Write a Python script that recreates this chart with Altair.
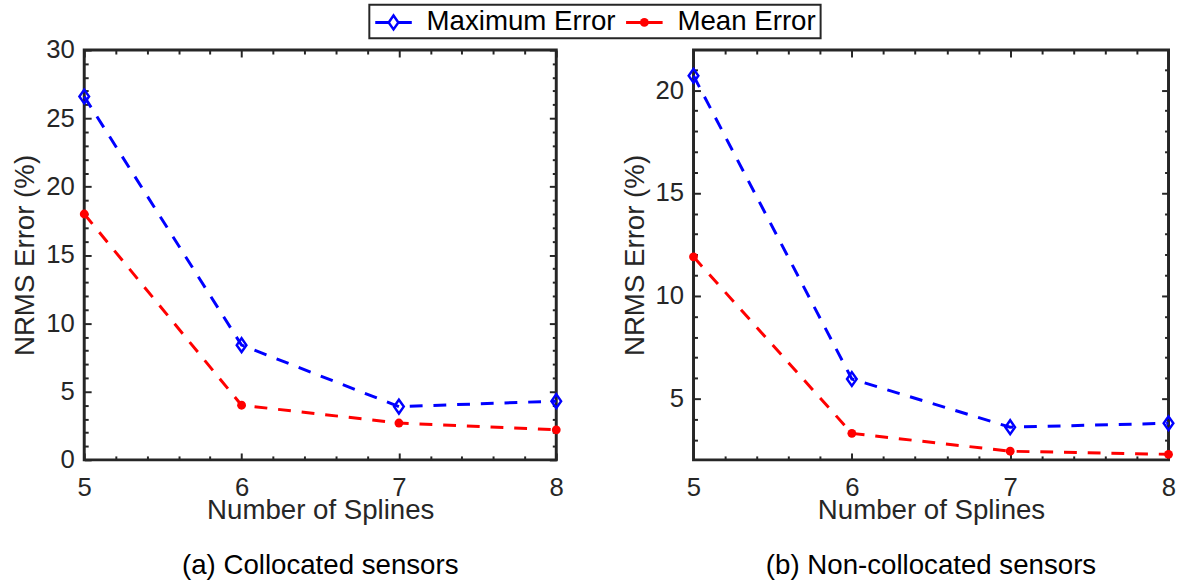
import altair as alt
import pandas as pd

FONT = "Liberation Sans"
DARK = "#262626"

# ---------------- data ----------------
splines = [5, 6, 7, 8]
series_names = ["Maximum Error", "Mean Error"]
series_colors = ["#0000ff", "#ff0000"]

a_max = [26.6, 8.4, 3.9, 4.3]
a_mean = [18.0, 4.0, 2.7, 2.2]
b_max = [20.7, 5.96, 3.62, 3.81]
b_mean = [11.9, 3.32, 2.45, 2.3]

x_major = [5, 6, 7, 8]
x_minor = [5.2, 5.4, 5.6, 5.8, 6.2, 6.4, 6.6, 6.8, 7.2, 7.4, 7.6, 7.8]
a_y_domain = [0, 30]
a_y_major = [0, 5, 10, 15, 20, 25, 30]
a_y_minor = [1, 2, 3, 4, 6, 7, 8, 9, 11, 12, 13, 14, 16, 17, 18, 19,
             21, 22, 23, 24, 26, 27, 28, 29]
b_y_domain = [2.03, 21.95]
b_y_major = [5, 10, 15, 20]
b_y_minor = [3, 4, 6, 7, 8, 9, 11, 12, 13, 14, 16, 17, 18, 19, 21]

captions = ["(a) Collocated sensors", "(b) Non-collocated sensors"]

# ---------------- layout / style ----------------
H = 415
W_A = 478
W_B = 481
DASH = [13, 11]
LINE_W = 3
DIAMOND = "M0,-1L0.7,0L0,1L-0.7,0Z"
DIAMOND_SIZE = 196
DOT_SIZE = 80

# legend box layout (pixels inside the legend frame)
LEG_W = 457
LEG_H = 34
LEG_Y = 18
LEG_SHIFT = 74          # invisible extension right of the frame (moves the centred frame left)
leg_seg_x1 = [6, 260]
leg_seg_x2 = [43, 297]
leg_sym_x = [24.5, 278.5]
leg_lab_x = [58, 312]


def panel(max_vals, mean_vals, ydom, ymaj, ymin, caption, width):
    df = pd.DataFrame({
        "splines": splines * 2,
        "error": max_vals + mean_vals,
        "series": [series_names[0]] * len(splines) + [series_names[1]] * len(splines),
    })
    xs = alt.Scale(domain=[5, 8], nice=False, zero=False)
    ys = alt.Scale(domain=ydom, nice=False, zero=False)
    base = alt.Chart(df)

    def xenc(axis):
        return alt.X("splines:Q", scale=xs, axis=axis)

    def yenc(axis):
        return alt.Y("error:Q", scale=ys, axis=axis)

    label_x = alt.Axis(orient="bottom", values=x_major, format="d", ticks=False,
                       domain=False, grid=False, labelPadding=15, labelFontSize=26,
                       labelFont=FONT, labelColor=DARK, labelFlush=False,
                       labelOverlap=False, title="Number of Splines",
                       titleFontSize=28, titleFont=FONT, titleFontWeight="normal",
                       titleColor=DARK, titlePadding=-4)
    label_y = alt.Axis(orient="left", values=ymaj, format="d", ticks=False,
                       domain=False, grid=False, labelPadding=10, labelFontSize=26,
                       labelFont=FONT, labelColor=DARK, labelFlush=False,
                       labelOverlap=False, title="NRMS Error (%)",
                       titleFontSize=28, titleFont=FONT, titleFontWeight="normal",
                       titleColor=DARK, titlePadding=6)

    def tick_axis(orient, vals, size, off):
        return alt.Axis(orient=orient, offset=off, values=vals, labels=False,
                        domain=False, grid=False, ticks=True, tickSize=size,
                        tickWidth=2, tickColor=DARK, title=None)

    color = alt.Color("series:N",
                      scale=alt.Scale(domain=series_names, range=series_colors),
                      legend=None)

    lines = base.mark_line(strokeDash=DASH, strokeWidth=LINE_W).encode(
        x=xenc(label_x), y=yenc(label_y), color=color, order="splines:Q")

    max_pts = base.transform_filter(alt.datum.series == series_names[0]).mark_point(
        shape=DIAMOND, filled=False, color=series_colors[0], size=DIAMOND_SIZE,
        strokeWidth=2.5, opacity=1).encode(x=xenc(None), y=yenc(None))
    mean_pts = base.transform_filter(alt.datum.series == series_names[1]).mark_circle(
        color=series_colors[1], size=DOT_SIZE, opacity=1).encode(
        x=xenc(None), y=yenc(None))

    ghost = base.mark_point(opacity=0)
    t1 = ghost.encode(x=xenc(tick_axis("top", x_major, 7, -H)),
                      y=yenc(tick_axis("right", ymaj, 7, -width)))
    t2 = ghost.encode(x=xenc(tick_axis("top", x_minor, 4, -H)),
                      y=yenc(tick_axis("right", ymin, 4, -width)))
    t3 = ghost.encode(x=xenc(tick_axis("bottom", x_major, 7, -H)),
                      y=yenc(tick_axis("left", ymaj, 7, -width)))
    t4 = ghost.encode(x=xenc(tick_axis("bottom", x_minor, 4, -H)),
                      y=yenc(tick_axis("left", ymin, 4, -width)))

    return alt.layer(lines, max_pts, mean_pts, t1, t2, t3, t4).resolve_axis(
        x="independent", y="independent").properties(
        width=width, height=H,
        title=alt.TitleParams(caption, orient="bottom", anchor="middle", frame="group",
                              fontSize=28, font=FONT, fontWeight="normal",
                              color="black", offset=29))


# ---------------- legend (boxed, centred on top) ----------------
leg_df = pd.DataFrame({
    "series": series_names,
    "x1": leg_seg_x1,
    "x2": leg_seg_x2,
    "sx": leg_sym_x,
    "lx": leg_lab_x,
})
lxs = alt.Scale(domain=[0, LEG_W], nice=False, zero=False)
leg_color = alt.Color("series:N", scale=alt.Scale(domain=series_names, range=series_colors),
                      legend=None)
leg_base = alt.Chart(leg_df)
leg_spacer = leg_base.transform_filter(alt.datum.series == series_names[0]).mark_rule(
    opacity=0, strokeWidth=1).encode(
    x=alt.value(LEG_W), x2=alt.value(LEG_W + LEG_SHIFT), y=alt.value(LEG_Y))
leg_lines = leg_base.mark_rule(strokeWidth=LINE_W).encode(
    x=alt.X("x1:Q", scale=lxs, axis=None), x2="x2:Q", y=alt.value(LEG_Y), color=leg_color)
leg_diamond = leg_base.transform_filter(alt.datum.series == series_names[0]).mark_point(
    shape=DIAMOND, filled=True, fill="#ffffff", stroke=series_colors[0],
    size=DIAMOND_SIZE, strokeWidth=2.5, opacity=1).encode(
    x=alt.X("sx:Q", scale=lxs, axis=None), y=alt.value(LEG_Y))
leg_dot = leg_base.transform_filter(alt.datum.series == series_names[1]).mark_circle(
    color=series_colors[1], size=DOT_SIZE, opacity=1).encode(
    x=alt.X("sx:Q", scale=lxs, axis=None), y=alt.value(LEG_Y))
leg_text = leg_base.mark_text(align="left", baseline="middle", fontSize=28, font=FONT,
                              color="black").encode(
    x=alt.X("lx:Q", scale=lxs, axis=None), y=alt.value(LEG_Y), text="series:N")
legend_box = alt.layer(leg_spacer, leg_lines, leg_diamond, leg_dot, leg_text).properties(
    width=LEG_W, height=LEG_H,
    view=alt.ViewBackground(stroke=DARK, strokeWidth=2, fill="#ffffff"))

left = panel(a_max, a_mean, a_y_domain, a_y_major, a_y_minor, captions[0], W_A)
right = panel(b_max, b_mean, b_y_domain, b_y_major, b_y_minor, captions[1], W_B)

chart = alt.vconcat(
    legend_box, alt.hconcat(left, right, spacing=52), spacing=-4, center=True
).properties(
    padding={"left": 10, "top": 0, "right": 5, "bottom": 0}
).configure_view(stroke=DARK, strokeWidth=3)

chart.save("out.html", embed_options={"renderer": "svg", "actions": False})
